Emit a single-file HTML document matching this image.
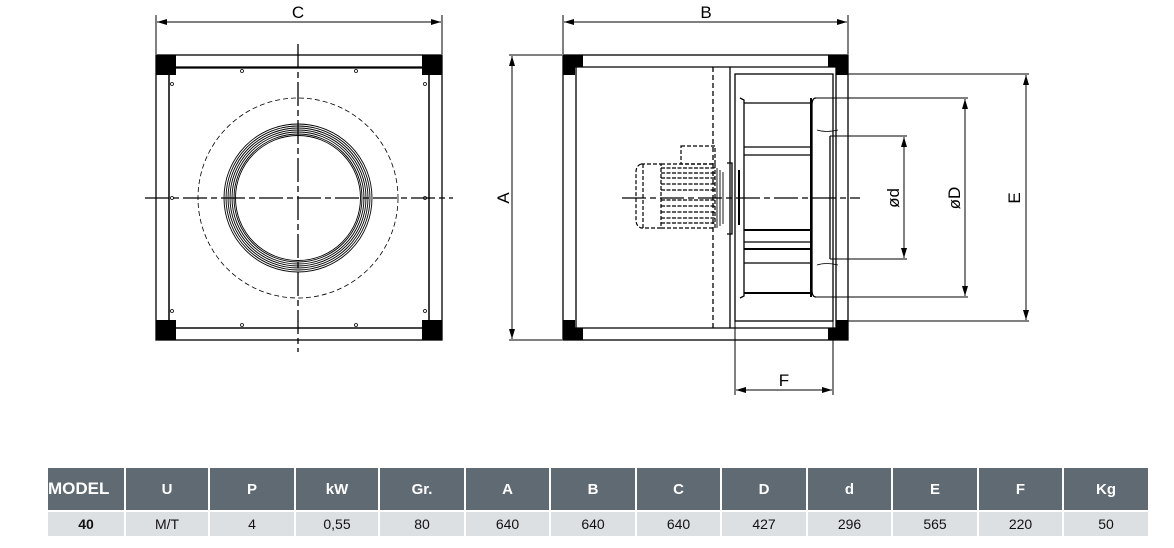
<!DOCTYPE html>
<html><head><meta charset="utf-8"><style>
body{margin:0;background:#fff;width:1174px;height:548px;overflow:hidden;font-family:"Liberation Sans",sans-serif}
svg{position:absolute;left:0;top:0}
table{position:absolute;left:46px;top:466px;border-collapse:collapse;font-family:"Liberation Sans",sans-serif}
td{border:2px solid #fff;text-align:center;padding:0}
tr.h td{background:#5f6a72;color:#fff;font-weight:bold;height:42px;font-size:15px}
tr.d td{background:#dde0e3;color:#111;height:24px;font-size:14px}
</style></head><body>
<svg width="1174" height="460" viewBox="0 0 1174 460" fill="none" stroke="#000" stroke-width="1.3">
<defs><marker id="a" viewBox="0 0 10 6" refX="10" refY="3" markerWidth="10" markerHeight="6" orient="auto-start-reverse"><path d="M0,0L10,3L0,6z" fill="#000" stroke="none"/></marker></defs>
<!-- LEFT VIEW -->
<rect x="156" y="55" width="286" height="285"/>
<rect x="169" y="68" width="260" height="260" rx="2"/>
<line x1="156" y1="67" x2="442" y2="67"/><line x1="156" y1="328" x2="442" y2="328"/>
<line x1="169" y1="55" x2="169" y2="340"/><line x1="429" y1="55" x2="429" y2="340"/>
<g fill="#000" stroke="none">
<rect x="156" y="55" width="20" height="20"/><rect x="422" y="55" width="20" height="20"/>
<rect x="156" y="320" width="20" height="20"/><rect x="422" y="320" width="20" height="20"/>
<rect x="563" y="55" width="20" height="12"/><rect x="563" y="67" width="12" height="8"/>
<rect x="828" y="55" width="20" height="12"/><rect x="836" y="67" width="12" height="8"/>
<rect x="563" y="328" width="20" height="12"/><rect x="563" y="320" width="12" height="8"/>
<rect x="828" y="328" width="20" height="12"/><rect x="836" y="320" width="12" height="8"/>
</g>
<g fill="#fff" stroke="#000" stroke-width="0.8">
<circle cx="242" cy="71" r="1.5"/><circle cx="356" cy="71" r="1.5"/><circle cx="242" cy="325" r="1.5"/><circle cx="356" cy="325" r="1.5"/>
<circle cx="172" cy="84" r="1.5"/><circle cx="425" cy="84" r="1.5"/><circle cx="172" cy="311" r="1.5"/><circle cx="425" cy="311" r="1.5"/>
<circle cx="172" cy="198" r="1.5"/><circle cx="425" cy="198" r="1.5"/>
</g>
<circle cx="298" cy="198" r="100" stroke-width="0.8" stroke-dasharray="5,3"/>
<g stroke-width="0.9"><circle cx="298" cy="198" r="74"/><circle cx="298" cy="198" r="72"/><circle cx="298" cy="198" r="70"/><circle cx="298" cy="198" r="68"/><circle cx="298" cy="198" r="66"/><circle cx="298" cy="198" r="64"/><circle cx="298" cy="198" r="62.5"/></g>
<line x1="145" y1="198" x2="453" y2="198" stroke-dasharray="24,4,6,4"/>
<line x1="298" y1="44" x2="298" y2="352" stroke-dasharray="24,4,6,4"/>
<!-- C dim -->
<line x1="156" y1="15" x2="156" y2="54" stroke-width="1"/><line x1="442" y1="15" x2="442" y2="54" stroke-width="1"/>
<line x1="157" y1="22" x2="441" y2="22" stroke-width="1" marker-start="url(#a)" marker-end="url(#a)"/>
<!-- RIGHT VIEW -->
<rect x="563" y="55" width="285" height="285"/>
<line x1="563" y1="67" x2="848" y2="67"/><line x1="563" y1="328" x2="848" y2="328"/>
<line x1="576" y1="67" x2="576" y2="328"/><line x1="836" y1="67" x2="836" y2="328"/>
<line x1="713" y1="67" x2="713" y2="328" stroke-dasharray="5,3"/>
<line x1="730" y1="67" x2="730" y2="328"/>
<rect x="735" y="74" width="98" height="247"/>
<!-- impeller -->
<path d="M740,98 L744,100 L744,296 L740,298"/>
<line x1="744" y1="103" x2="811" y2="103"/><line x1="744" y1="293" x2="811" y2="293" stroke-width="2"/>
<line x1="811" y1="98" x2="811" y2="297" stroke-width="2"/>
<line x1="744" y1="147" x2="811" y2="147"/><line x1="744" y1="155" x2="811" y2="155"/>
<line x1="744" y1="230" x2="811" y2="230" stroke-width="2"/><line x1="744" y1="242" x2="811" y2="242"/><line x1="744" y1="249" x2="811" y2="249" stroke-width="2"/><line x1="744" y1="263" x2="811" y2="263"/>
<path d="M816,98 Q812,98 812,105 L812,290 Q812,297 816,297"/>
<path d="M817,130 Q826,133 838,130 M817,265 Q826,262 838,265" stroke-width="0.8"/>
<line x1="830" y1="136" x2="830" y2="259"/>
<line x1="739" y1="170" x2="739" y2="225" stroke-width="2"/>
<path d="M727,163 L732,163 L732,234 L727,234"/>
<!-- motor dashed -->
<g stroke-dasharray="4,2" stroke-width="1.2">
<path d="M641,164 L661,164 L661,228 L641,228 Q636,226 636,220 L636,172 Q636,166 641,164z"/>
<line x1="643" y1="164" x2="643" y2="228"/>
<rect x="681" y="146" width="34" height="18"/>
<path d="M661,164 L715,164 L715,228 L661,228"/>
</g>
<g stroke-width="1.3" stroke-dasharray="4,1.5">
<line x1="661" y1="168" x2="715" y2="168"/><line x1="661" y1="173" x2="715" y2="173"/><line x1="661" y1="178" x2="715" y2="178"/><line x1="661" y1="184" x2="715" y2="184"/><line x1="661" y1="190" x2="715" y2="190"/><line x1="661" y1="200" x2="715" y2="200"/><line x1="661" y1="206" x2="715" y2="206"/><line x1="661" y1="212" x2="715" y2="212"/><line x1="661" y1="218" x2="715" y2="218"/><line x1="661" y1="223" x2="715" y2="223"/>
</g>
<g stroke-width="0.9"><line x1="717" y1="168" x2="717" y2="228"/><line x1="720" y1="170" x2="720" y2="226"/><line x1="723" y1="172" x2="723" y2="224"/></g>
<line x1="622" y1="198" x2="860" y2="198" stroke-dasharray="24,4,6,4"/>
<!-- B dim -->
<line x1="563" y1="15" x2="563" y2="54" stroke-width="1"/><line x1="848" y1="15" x2="848" y2="54" stroke-width="1"/>
<line x1="564" y1="22" x2="847" y2="22" stroke-width="1" marker-start="url(#a)" marker-end="url(#a)"/>
<!-- A dim -->
<line x1="509" y1="55" x2="562" y2="55" stroke-width="1"/><line x1="509" y1="340" x2="562" y2="340" stroke-width="1"/>
<line x1="512" y1="56" x2="512" y2="339" stroke-width="1" marker-start="url(#a)" marker-end="url(#a)"/>
<!-- E, D, d -->
<line x1="836" y1="74" x2="1029" y2="74" stroke-width="1"/><line x1="836" y1="321" x2="1029" y2="321" stroke-width="1"/>
<line x1="1026" y1="75" x2="1026" y2="320" stroke-width="1" marker-start="url(#a)" marker-end="url(#a)"/>
<line x1="816" y1="98" x2="968" y2="98" stroke-width="1"/><line x1="816" y1="297" x2="968" y2="297" stroke-width="1"/>
<line x1="965" y1="99" x2="965" y2="296" stroke-width="1" marker-start="url(#a)" marker-end="url(#a)"/>
<line x1="830" y1="136" x2="907" y2="136" stroke-width="1"/><line x1="830" y1="259" x2="907" y2="259" stroke-width="1"/>
<line x1="904" y1="137" x2="904" y2="258" stroke-width="1" marker-start="url(#a)" marker-end="url(#a)"/>
<!-- F dim -->
<line x1="735" y1="321" x2="735" y2="395" stroke-width="1"/><line x1="833" y1="321" x2="833" y2="395" stroke-width="1"/>
<line x1="736" y1="390" x2="832" y2="390" stroke-width="1" marker-start="url(#a)" marker-end="url(#a)"/>
<g fill="#000" stroke="none" font-family="Liberation Sans, sans-serif" font-size="17">
<text x="298" y="18" text-anchor="middle">C</text>
<text x="706" y="18" text-anchor="middle">B</text>
<text x="784" y="386" text-anchor="middle">F</text>
<text transform="translate(509,198) rotate(-90)" text-anchor="middle">A</text>
<text transform="translate(1020,198) rotate(-90)" text-anchor="middle">E</text>
<text transform="translate(960,198) rotate(-90)" text-anchor="middle">øD</text>
<text transform="translate(899,198) rotate(-90)" text-anchor="middle">ød</text>
</g>
</svg>
<table>
<tr class="h"><td style="width:76px;font-size:17px;text-align:left">MODEL</td><td style="width:82px">U</td><td style="width:84px">P</td><td style="width:82px">kW</td><td style="width:84px">Gr.</td><td style="width:83px">A</td><td style="width:84px">B</td><td style="width:83px">C</td><td style="width:84px">D</td><td style="width:83px">d</td><td style="width:84px">E</td><td style="width:83px">F</td><td style="width:84px">Kg</td></tr>
<tr class="d"><td style="font-weight:bold">40</td><td>M/T</td><td>4</td><td>0,55</td><td>80</td><td>640</td><td>640</td><td>640</td><td>427</td><td>296</td><td>565</td><td>220</td><td>50</td></tr>
</table>
</body></html>
